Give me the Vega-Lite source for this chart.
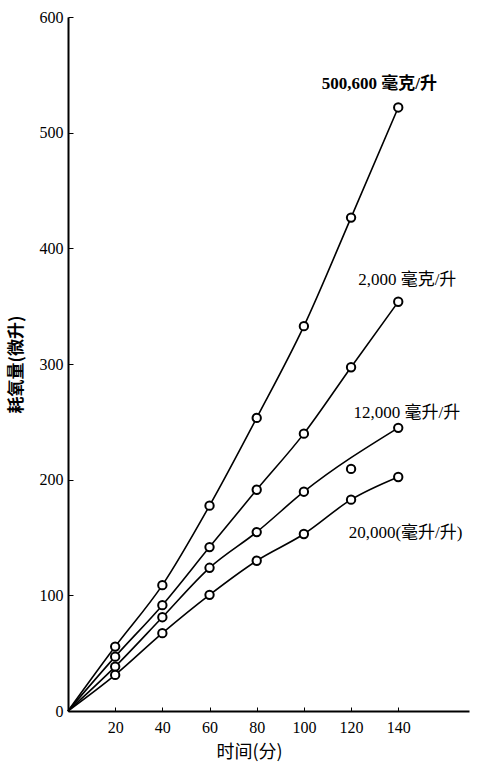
{
  "$schema": "https://vega.github.io/schema/vega-lite/v6.json",
  "width": 401,
  "height": 694,
  "autosize": {"type": "none"},
  "padding": {"left": 68, "top": 17, "right": 24, "bottom": 53},
  "background": "white",
  "config": {
    "view": {"stroke": null},
    "font": "Liberation Serif, Noto Sans CJK SC"
  },
  "datasets": {
    "pts": [
      {"s": "A", "t": 20, "v": 55.7}, {"s": "A", "t": 40, "v": 108.8}, {"s": "A", "t": 60, "v": 177.5}, {"s": "A", "t": 80, "v": 253.4}, {"s": "A", "t": 100, "v": 332.7}, {"s": "A", "t": 120, "v": 426.6}, {"s": "A", "t": 140, "v": 521.8},
      {"s": "B", "t": 20, "v": 47}, {"s": "B", "t": 40, "v": 91.5}, {"s": "B", "t": 60, "v": 141.7}, {"s": "B", "t": 80, "v": 191.3}, {"s": "B", "t": 100, "v": 239.8}, {"s": "B", "t": 120, "v": 297.2}, {"s": "B", "t": 140, "v": 353.8},
      {"s": "C", "t": 20, "v": 38.4}, {"s": "C", "t": 40, "v": 81.1}, {"s": "C", "t": 60, "v": 123.8}, {"s": "C", "t": 80, "v": 154.7}, {"s": "C", "t": 100, "v": 189.6}, {"s": "C", "t": 120, "v": 209.3}, {"s": "C", "t": 140, "v": 244.8},
      {"s": "D", "t": 20, "v": 31.2}, {"s": "D", "t": 40, "v": 67.3}, {"s": "D", "t": 60, "v": 100.4}, {"s": "D", "t": 80, "v": 129.9}, {"s": "D", "t": 100, "v": 153}, {"s": "D", "t": 120, "v": 182.7}, {"s": "D", "t": 140, "v": 202.3}
    ],
    "curve": [
      {"s": "A", "t": 0, "v": 0}, {"s": "A", "t": 20, "v": 55.7}, {"s": "A", "t": 40, "v": 108.8}, {"s": "A", "t": 60, "v": 177.5}, {"s": "A", "t": 80, "v": 253.4}, {"s": "A", "t": 100, "v": 332.7}, {"s": "A", "t": 120, "v": 426.6}, {"s": "A", "t": 140, "v": 521.8},
      {"s": "B", "t": 0, "v": 0}, {"s": "B", "t": 20, "v": 47}, {"s": "B", "t": 40, "v": 91.5}, {"s": "B", "t": 60, "v": 141.7}, {"s": "B", "t": 80, "v": 191.3}, {"s": "B", "t": 100, "v": 239.8}, {"s": "B", "t": 120, "v": 297.2}, {"s": "B", "t": 140, "v": 353.8},
      {"s": "C", "t": 0, "v": 0}, {"s": "C", "t": 20, "v": 38.4}, {"s": "C", "t": 40, "v": 81.1}, {"s": "C", "t": 60, "v": 123.8}, {"s": "C", "t": 80, "v": 154.7}, {"s": "C", "t": 100, "v": 189.6}, {"s": "C", "t": 140, "v": 244.8},
      {"s": "D", "t": 0, "v": 0}, {"s": "D", "t": 20, "v": 31.2}, {"s": "D", "t": 40, "v": 67.3}, {"s": "D", "t": 60, "v": 100.4}, {"s": "D", "t": 80, "v": 129.9}, {"s": "D", "t": 100, "v": 153}, {"s": "D", "t": 120, "v": 182.7}, {"s": "D", "t": 140, "v": 202.3}
    ],
    "labels": [
      {"t": 107.6, "v": 542, "txt": "500,600 毫克/升", "b": 1},
      {"t": 123, "v": 373, "txt": "2,000 毫克/升", "b": 0},
      {"t": 121, "v": 258, "txt": "12,000 毫升/升", "b": 0},
      {"t": 119, "v": 154, "txt": "20,000(毫升/升)", "b": 0}
    ]
  },
  "layer": [
    {
      "data": {"name": "curve"},
      "mark": {"type": "line", "color": "black", "strokeWidth": 1.6, "interpolate": "monotone"},
      "encoding": {
        "x": {
          "field": "t", "type": "quantitative",
          "scale": {"domain": [0, 170], "nice": false},
          "axis": {
            "values": [20, 40, 60, 80, 100, 120, 140],
            "title": "时间(分)",
            "titleFont": "Noto Sans CJK SC",
            "titleFontSize": 18,
            "titleFontWeight": "normal",
            "titleColor": "black",
            "titleX": 181,
            "titleY": 41,
            "titleAnchor": "start",
            "titleAlign": "center",
            "titleBaseline": "middle",
            "labelFontSize": 16,
            "labelColor": "black",
            "labelPadding": 12,
            "tickSize": -4,
            "tickColor": "black",
            "domainColor": "black",
            "domainWidth": 2,
            "grid": false
          }
        },
        "y": {
          "field": "v", "type": "quantitative",
          "scale": {"domain": [0, 600], "nice": false},
          "axis": {
            "values": [0, 100, 200, 300, 400, 500, 600],
            "title": "耗氧量(微升)",
            "titleFont": "Noto Sans CJK SC",
            "titleFontSize": 17,
            "titleFontWeight": "bold",
            "titleColor": "black",
            "titlePadding": 14,
            "labelFontSize": 16,
            "labelColor": "black",
            "labelPadding": 10,
            "tickSize": -5,
            "tickColor": "black",
            "domainColor": "black",
            "domainWidth": 2,
            "grid": false
          }
        },
        "detail": {"field": "s"}
      }
    },
    {
      "data": {"name": "pts"},
      "mark": {"type": "point", "shape": "circle", "filled": false, "fill": "white", "stroke": "black", "strokeWidth": 2, "size": 70, "opacity": 1},
      "encoding": {
        "x": {"field": "t", "type": "quantitative"},
        "y": {"field": "v", "type": "quantitative"}
      }
    },
    {
      "data": {"name": "labels"},
      "transform": [{"filter": "datum.b == 1"}],
      "mark": {"type": "text", "align": "left", "baseline": "middle", "fontSize": 17, "fontWeight": "bold", "color": "black", "font": "Liberation Serif, Noto Sans CJK SC"},
      "encoding": {
        "x": {"field": "t", "type": "quantitative"},
        "y": {"field": "v", "type": "quantitative"},
        "text": {"field": "txt"}
      }
    },
    {
      "data": {"name": "labels"},
      "transform": [{"filter": "datum.b == 0"}],
      "mark": {"type": "text", "align": "left", "baseline": "middle", "fontSize": 17, "fontWeight": "normal", "color": "black", "font": "Liberation Serif, Noto Sans CJK SC"},
      "encoding": {
        "x": {"field": "t", "type": "quantitative"},
        "y": {"field": "v", "type": "quantitative"},
        "text": {"field": "txt"}
      }
    }
  ]
}
